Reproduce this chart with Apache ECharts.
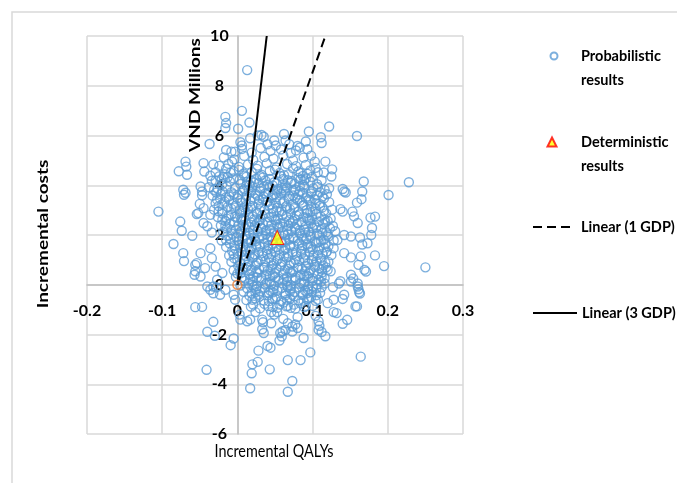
<!DOCTYPE html>
<html>
<head>
<meta charset="utf-8">
<script src="https://cdn.jsdelivr.net/npm/echarts@6/dist/echarts.min.js"></script>
<style>
html,body{margin:0;padding:0;background:#fff;}
#chart{width:677px;height:483px;}
</style>
</head>
<body>
<div id="chart"></div>
<script>
var FONT = "Lato,'Open Sans',sans-serif";

var seriesNames = ['Probabilistic results', 'Deterministic results', 'Linear (1 GDP)', 'Linear (3 GDP)'];
var xTickLabels = ['-0.2', '-0.1', '0', '0.1', '0.2', '0.3'];
var yTickLabels = ['-6', '-4', '-2', '0', '2', '4', '6', '8', '10'];
var xAxisTitle = 'Incremental QALYs';
var yAxisTitle = 'Incremental costs';
var unitTitle = 'VND Millions';

// Deterministic result (incremental QALYs, incremental cost in VND millions)
var deterministic = [[0.053, 1.9]];
var origin = [[0, 0]];
// Threshold lines (1 GDP and 3 GDP per QALY), from origin to top of the axis
var line1GDP = [[0, 0], [0.117, 10]];
var line3GDP = [[0, 0], [0.039, 10]];

// Probabilistic results - outer points
var probOuter = [
[0.013,8.63],[0.006,6.99],[-0.016,6.75],[-0.015,6.5],[0.016,6.52],[-0.016,6.3],[0.001,6.27],[0.122,6.36],[0.095,6.16],[0.159,5.98],[-0.037,5.66],[0.111,5.93],[0.112,5.7],[0.032,6.02],[0.062,6.06],[0.004,5.73],[0.091,5.76],[0.08,5.58],[0.093,5.45],[0.027,6.0],[0.035,5.95],[0.049,5.8],[0.064,5.8],[0.069,5.65],[0.04,5.65],[0.017,5.89],[-0.015,5.42],[0.006,5.6],[-0.003,5.35],[0.078,5.4],[0.051,5.6],
[-0.069,4.95],[-0.068,4.75],[-0.078,4.56],[-0.067,4.42],[-0.045,4.89],[-0.032,4.84],[-0.044,4.55],[-0.036,4.38],[-0.072,3.82],[-0.071,3.62],[-0.049,3.95],[-0.047,3.75],[-0.029,4.19],[-0.018,4.33],[-0.007,4.95],[-0.009,4.5],[-0.069,3.7],[-0.047,3.6],[-0.05,3.25],
[-0.105,2.94],[-0.076,2.54],[-0.074,2.17],[-0.06,1.97],[-0.054,2.84],[-0.085,1.64],[-0.072,1.27],[-0.071,0.95],[-0.056,0.8],[-0.057,0.4],[-0.056,0.54],[-0.049,0.33],[-0.054,0.87],[-0.049,1.27],[-0.045,3.08],[-0.036,2.81],[-0.045,2.48],[-0.04,2.35],[-0.034,2.1],[-0.036,1.47],[-0.034,1.07],[-0.029,0.73],[-0.043,0.67],[-0.027,0.2],[-0.02,0.47],[-0.052,2.88],
[0.126,4.64],[0.115,4.51],[0.125,4.35],[0.117,4.95],[0.103,4.95],[0.084,4.49],[0.089,4.2],[0.168,4.15],[0.228,4.12],[0.201,3.61],[0.166,3.75],[0.142,3.75],[0.14,3.85],[0.122,3.88],[0.113,3.55],[0.165,3.44],[0.159,3.3],[0.137,3.04],[0.153,2.94],[0.155,2.75],[0.16,2.48],[0.177,2.7],[0.183,2.74],[0.179,2.28],[0.178,2.0],[0.173,1.67],[0.166,1.62],[0.163,1.9],[0.151,1.94],[0.142,2.0],[0.133,1.8],[0.128,1.47],[0.142,1.27],[0.151,1.1],[0.164,1.14],[0.183,1.18],[0.195,0.75],[0.25,0.7],[0.169,0.6],[0.161,0.8],[0.151,0.4],[0.16,0.05],[0.161,-0.18],[0.137,0.14],[0.124,0.54],[0.14,2.94],[0.144,3.71],[0.171,0.53],[0.151,0.13],[0.16,-0.07],[0.162,-0.3],[0.154,0.25],[0.142,-0.4],[0.135,0.05],[0.127,-0.1],
[-0.04,-0.07],[-0.032,-0.07],[-0.032,-0.34],[-0.023,-0.4],[-0.056,-0.9],[-0.047,-0.89],[-0.032,-1.49],[-0.04,-1.89],[-0.03,-2.05],[-0.005,-2.16],[-0.009,-2.43],[-0.041,-3.42],[0.017,-4.16],[0.019,-3.56],[0.02,-3.2],[0.027,-3.1],[0.028,-2.65],[0.043,-3.4],[0.04,-2.46],[0.044,-2.53],[0.067,-4.3],[0.073,-3.87],[0.067,-3.03],[0.084,-3.03],[0.097,-2.72],[0.164,-2.89],[0.157,-0.87],[0.146,-1.41],[0.14,-1.57],[0.117,-2.07],[0.108,-1.81],[0.088,-2.14],[0.08,-1.74],[0.077,-1.6],[0.06,-1.87],[0.059,-2.08],[0.056,-2.24],[0.035,-1.94],[0.033,-1.4],[0.049,-1.2],[0.128,-1.1],[0.14,-0.57],[0.132,-1.14],[0.112,-1.9],[0.034,-1.51],[0.033,-1.79],[0.045,-1.55],[0.057,-1.94],[0.064,-1.82],[0.067,-1.55],[0.073,-1.68],[0.073,-1.88],[0.08,-1.3],[0.108,-1.47],[0.109,-1.65],[0.104,-1.25],[0.12,-0.74],[0.128,-0.6],[0.013,-1.47],[0.017,-1.4],[0.004,-1.4],[0.003,-1.2],[0.024,-1.1],[0.021,-0.8],[0.045,-1.1],[0.053,-1.1],[0.061,-1.37],[0.056,-0.8],[0.067,-0.85],[0.075,-0.8],[0.091,-0.85],[0.107,-0.6],[-0.003,-0.6],[-0.005,-0.4],[-0.016,-0.2],[-0.036,-0.2],[-0.028,-0.1],[0.159,-0.87],[0.163,-0.35]
];

// Probabilistic results - dense central cloud (estimated positions)
var probCore = [
[-0.008,5.35],[0.006,5.46],[0.019,5.31],[0.031,5.5],[0.044,5.38],[0.058,5.44],[0.071,5.29],[0.083,5.52],
[-0.018,5.12],[-0.004,5.04],[0.009,5.18],[0.021,5.02],[0.036,5.14],[0.048,5.07],[0.061,5.2],[0.074,5.0],[0.088,5.11],[0.098,5.19],
[-0.024,4.78],[-0.012,4.86],[0.002,4.74],[0.014,4.83],[0.027,4.79],[0.039,4.88],[0.052,4.72],[0.066,4.85],[0.078,4.77],[0.091,4.82],[0.104,4.7],
[-0.029,4.52],[-0.017,4.44],[-0.005,4.56],[0.008,4.47],[0.019,4.53],[0.032,4.42],[0.043,4.58],[0.056,4.49],[0.068,4.44],[0.081,4.55],[0.093,4.46],[0.107,4.52],
[-0.034,4.18],[-0.021,4.24],[-0.01,4.15],[0.003,4.22],[0.013,4.13],[0.025,4.26],[0.037,4.19],[0.049,4.12],[0.061,4.25],[0.072,4.17],[0.084,4.23],[0.097,4.14],[0.112,4.2],
[-0.038,3.92],[-0.026,3.86],[-0.014,3.95],[-0.003,3.88],[0.009,3.84],[0.02,3.93],[0.031,3.87],[0.043,3.96],[0.054,3.85],[0.066,3.91],[0.077,3.83],[0.089,3.94],[0.101,3.88],[0.116,3.82],
[-0.033,3.58],[-0.022,3.64],[-0.011,3.55],[0.001,3.62],[0.012,3.57],[0.024,3.66],[0.035,3.54],[0.047,3.61],[0.058,3.67],[0.069,3.56],[0.081,3.63],[0.093,3.55],[0.106,3.6],[0.119,3.64],
[-0.029,3.27],[-0.017,3.34],[-0.006,3.25],[0.006,3.31],[0.017,3.36],[0.028,3.24],[0.04,3.32],[0.051,3.28],[0.062,3.35],[0.074,3.23],[0.086,3.3],[0.097,3.37],[0.109,3.26],[0.122,3.32],
[-0.031,3.02],[-0.02,2.95],[-0.008,3.05],[0.003,2.97],[0.014,3.04],[0.025,2.93],[0.036,3.01],[0.047,3.06],[0.059,2.96],[0.07,3.03],[0.081,2.94],[0.092,3.0],[0.104,3.05],[0.115,2.97],[0.126,3.02],
[-0.026,2.72],[-0.014,2.66],[-0.003,2.74],[0.009,2.68],[0.02,2.75],[0.031,2.64],[0.042,2.71],[0.054,2.67],[0.065,2.76],[0.076,2.65],[0.088,2.73],[0.099,2.68],[0.111,2.74],[0.124,2.66],
[-0.022,2.38],[-0.01,2.45],[0.001,2.36],[0.012,2.42],[0.023,2.35],[0.034,2.44],[0.045,2.39],[0.057,2.46],[0.068,2.37],[0.079,2.43],[0.091,2.34],[0.102,2.41],[0.114,2.45],[0.127,2.36],
[-0.019,2.12],[-0.007,2.05],[0.005,2.14],[0.016,2.08],[0.027,2.15],[0.038,2.04],[0.049,2.11],[0.061,2.07],[0.072,2.16],[0.083,2.06],[0.095,2.13],[0.106,2.04],[0.118,2.1],[0.13,2.15],
[-0.021,1.78],[-0.009,1.84],[0.002,1.76],[0.013,1.83],[0.024,1.75],[0.035,1.85],[0.046,1.79],[0.058,1.74],[0.069,1.82],[0.08,1.77],[0.092,1.86],[0.103,1.75],[0.115,1.81],[0.128,1.78],
[-0.015,1.52],[-0.003,1.46],[0.008,1.55],[0.019,1.48],[0.03,1.54],[0.041,1.44],[0.052,1.51],[0.064,1.47],[0.075,1.56],[0.086,1.45],[0.098,1.53],[0.109,1.49],[0.121,1.55],
[-0.011,1.18],[0.001,1.25],[0.012,1.16],[0.023,1.22],[0.034,1.15],[0.045,1.24],[0.056,1.19],[0.067,1.26],[0.079,1.14],[0.09,1.21],[0.101,1.17],[0.113,1.25],[0.125,1.19],
[-0.008,0.92],[0.004,0.86],[0.015,0.95],[0.026,0.88],[0.037,0.94],[0.048,0.84],[0.06,0.91],[0.071,0.87],[0.082,0.96],[0.094,0.85],[0.105,0.93],[0.117,0.88],
[-0.005,0.58],[0.007,0.64],[0.018,0.56],[0.029,0.62],[0.04,0.55],[0.052,0.65],[0.063,0.59],[0.074,0.54],[0.086,0.63],[0.097,0.57],[0.109,0.66],[0.12,0.6],
[-0.002,0.32],[0.01,0.25],[0.021,0.34],[0.032,0.27],[0.043,0.35],[0.055,0.24],[0.066,0.31],[0.077,0.28],[0.089,0.36],[0.1,0.26],[0.112,0.33],
[0.004,-0.03],[0.015,0.05],[0.026,-0.06],[0.037,0.02],[0.049,-0.04],[0.06,0.06],[0.071,-0.02],[0.083,0.04],[0.094,-0.07],[0.106,0.01],[0.116,0.05],
[0.008,-0.28],[0.019,-0.35],[0.03,-0.26],[0.042,-0.33],[0.053,-0.24],[0.064,-0.34],[0.076,-0.29],[0.087,-0.36],[0.099,-0.27],[0.11,-0.32],
[0.012,-0.62],[0.024,-0.55],[0.035,-0.64],[0.047,-0.58],[0.058,-0.66],[0.07,-0.56],[0.081,-0.63],[0.093,-0.59],[0.104,-0.65],
[0.018,-0.88],[0.03,-0.95],[0.041,-0.86],[0.053,-0.93],[0.065,-0.87],[0.077,-0.96],[0.089,-0.9],[0.1,-0.85],
[0.004,4.05],[0.016,4.0],[0.028,4.08],[0.04,4.02],[0.052,4.07],[0.064,3.99],[0.076,4.06],[0.088,4.01],
[-0.02,3.76],[-0.008,3.72],[0.007,3.78],[0.018,3.73],[0.03,3.77],[0.041,3.71],[0.053,3.79],[0.064,3.74],[0.075,3.78],[0.087,3.7],[0.099,3.75],
[-0.023,3.46],[-0.011,3.42],[0.0,3.48],[0.011,3.41],[0.023,3.47],[0.034,3.43],[0.045,3.49],[0.057,3.4],[0.068,3.46],[0.08,3.42],[0.091,3.48],[0.103,3.44],[0.115,3.47],
[-0.025,3.16],[-0.013,3.12],[-0.002,3.18],[0.009,3.11],[0.02,3.17],[0.031,3.13],[0.042,3.19],[0.053,3.1],[0.065,3.16],[0.076,3.12],[0.087,3.18],[0.098,3.14],[0.11,3.17],
[-0.02,2.86],[-0.008,2.82],[0.004,2.88],[0.015,2.81],[0.026,2.87],[0.037,2.83],[0.048,2.89],[0.06,2.8],[0.071,2.86],[0.082,2.82],[0.093,2.88],[0.105,2.84],[0.118,2.87],
[-0.016,2.56],[-0.004,2.52],[0.007,2.58],[0.018,2.51],[0.029,2.57],[0.04,2.53],[0.051,2.59],[0.062,2.5],[0.074,2.56],[0.085,2.52],[0.096,2.58],[0.108,2.54],[0.12,2.57],
[-0.014,2.26],[-0.002,2.22],[0.01,2.28],[0.021,2.21],[0.032,2.27],[0.043,2.23],[0.055,2.29],[0.066,2.2],[0.077,2.26],[0.089,2.22],[0.1,2.28],[0.112,2.24],[0.123,2.27],
[-0.013,1.96],[-0.001,1.92],[0.011,1.98],[0.022,1.91],[0.033,1.97],[0.044,1.93],[0.063,1.99],[0.074,1.9],[0.086,1.96],[0.097,1.92],[0.109,1.98],[0.121,1.94],
[-0.01,1.66],[0.003,1.62],[0.014,1.68],[0.025,1.61],[0.036,1.67],[0.047,1.63],[0.059,1.69],[0.07,1.6],[0.082,1.66],[0.093,1.62],[0.105,1.68],[0.117,1.64],
[-0.007,1.36],[0.006,1.32],[0.017,1.38],[0.028,1.31],[0.039,1.37],[0.05,1.33],[0.062,1.39],[0.073,1.3],[0.085,1.36],[0.096,1.32],[0.108,1.38],[0.119,1.34],
[-0.004,1.06],[0.009,1.02],[0.02,1.08],[0.031,1.01],[0.042,1.07],[0.054,1.03],[0.065,1.09],[0.077,1.0],[0.088,1.06],[0.099,1.02],[0.111,1.08],
[0.001,0.76],[0.012,0.72],[0.024,0.78],[0.035,0.71],[0.046,0.77],[0.057,0.73],[0.069,0.79],[0.08,0.7],[0.091,0.76],[0.103,0.72],[0.114,0.78],
[0.004,0.46],[0.016,0.42],[0.027,0.48],[0.038,0.41],[0.05,0.47],[0.061,0.43],[0.072,0.49],[0.084,0.4],[0.095,0.46],[0.107,0.42],
[0.009,0.16],[0.02,0.12],[0.032,0.18],[0.043,0.11],[0.055,0.17],[0.066,0.13],[0.077,0.19],[0.089,0.1],[0.1,0.16],[0.111,0.12],
[0.013,-0.14],[0.025,-0.18],[0.036,-0.12],[0.048,-0.19],[0.059,-0.13],[0.071,-0.17],[0.082,-0.11],[0.094,-0.2],[0.105,-0.14],
[0.016,-0.44],[0.029,-0.48],[0.041,-0.42],[0.052,-0.49],[0.064,-0.43],[0.075,-0.47],[0.087,-0.41],[0.098,-0.5]
];

// Probabilistic results - extra points filling the densest part of the cloud
var probDense = [
[0.034,4.31],[0.058,4.36],[0.081,4.29],[0.012,4.34],[-0.013,4.33],[0.099,4.33],
[0.047,3.99],[0.071,4.1],[0.022,4.11],[-0.02,4.05],[0.106,4.04],
[0.037,3.67],[0.015,3.8],[0.062,3.81],[0.083,3.77],[-0.028,3.71],[0.11,3.72],
[0.029,3.4],[0.052,3.52],[0.077,3.5],[0.004,3.39],[0.095,3.41],[-0.015,3.52],
[0.018,3.09],[0.044,3.23],[0.066,3.09],[0.088,3.21],[-0.004,3.1],[0.113,3.11],
[0.033,2.79],[0.056,2.93],[0.079,2.78],[0.011,2.91],[0.1,2.95],[-0.012,2.78],
[0.026,2.48],[0.049,2.62],[0.071,2.47],[0.094,2.61],[0.005,2.63],[0.117,2.5],
[0.038,2.18],[0.06,2.32],[0.083,2.19],[0.016,2.31],[0.105,2.3],[-0.008,2.2],
[0.029,1.89],[0.052,2.01],[0.075,1.86],[0.097,2.0],[0.007,1.89],[0.12,2.02],
[0.041,1.59],[0.063,1.72],[0.086,1.58],[0.018,1.71],[0.108,1.72],[-0.004,1.58],
[0.033,1.28],[0.055,1.42],[0.078,1.29],[0.1,1.43],[0.011,1.41],[0.118,1.3],
[0.045,0.99],[0.068,1.12],[0.09,0.98],[0.022,1.12],[0.112,0.97],[0.0,1.0],
[0.036,0.68],[0.058,0.82],[0.081,0.68],[0.103,0.8],[0.014,0.81],[0.118,0.7],
[0.047,0.38],[0.07,0.52],[0.092,0.37],[0.025,0.51],[0.113,0.5],[0.003,0.6],
[0.039,0.07],[0.062,0.21],[0.085,0.08],[0.017,0.22],[0.108,0.2],
[0.044,-0.24],[0.067,-0.09],[0.09,-0.23],[0.022,-0.08],[0.112,-0.1],
[0.05,-0.55],[0.073,-0.4],[0.095,-0.54],[0.028,-0.4],[0.061,-0.72],[0.084,-0.75],[0.036,-0.77],
[0.002,4.62],[0.026,4.66],[0.05,4.63],[0.074,4.68],[0.097,4.6],[-0.015,4.67],
[0.009,4.39],[0.03,4.37],[0.062,4.4],[0.087,4.37],[-0.024,4.36],
[0.018,4.18],[0.043,4.25],[0.067,4.2],[0.091,4.27],[-0.005,4.27],
[0.035,3.93],[0.059,3.88],[0.083,3.96],[0.012,3.99],[-0.031,3.81],[0.107,3.93],
[0.027,3.59],[0.05,3.64],[0.074,3.59],[0.098,3.67],[-0.005,3.64],[-0.027,3.42],
[0.038,3.35],[0.06,3.27],[0.083,3.38],[0.012,3.22],[0.104,3.28],[-0.02,3.24],
[0.03,2.99],[0.052,2.97],[0.075,3.07],[0.097,2.92],[0.008,3.01],[-0.025,2.95],
[0.022,2.63],[0.046,2.74],[0.069,2.6],[0.092,2.7],[0.0,2.7],[-0.02,2.62],[0.116,2.63],
[0.03,2.38],[0.053,2.42],[0.076,2.33],[0.098,2.46],[0.008,2.4],[-0.016,2.37],
[0.021,2.05],[0.045,2.16],[0.067,2.02],[0.09,2.1],[0.001,2.06],[0.113,2.08],
[0.019,1.78],[0.04,1.82],[0.064,1.79],[0.088,1.84],[0.111,1.78],[-0.015,1.8],
[0.025,1.51],[0.047,1.46],[0.07,1.53],[0.094,1.48],[0.004,1.49],[0.115,1.5],
[0.016,1.19],[0.04,1.22],[0.062,1.16],[0.085,1.24],[0.107,1.2],[-0.005,1.22],
[0.028,0.92],[0.052,0.95],[0.075,0.88],[0.099,0.95],[0.01,0.98],[0.121,0.92],
[0.019,0.61],[0.044,0.6],[0.067,0.64],[0.09,0.55],[0.112,0.62],[0.0,0.45],
[0.026,0.29],[0.05,0.3],[0.072,0.25],[0.094,0.33],[0.116,0.26],[0.006,0.3],
[0.02,-0.02],[0.045,0.03],[0.066,-0.04],[0.088,0.02],[0.1,-0.06],
[0.024,-0.3],[0.047,-0.3],[0.07,-0.26],[0.093,-0.33],[0.105,-0.42],
[0.02,-0.6],[0.042,-0.66],[0.066,-0.6],[0.088,-0.64],[0.047,-0.9],[0.071,-0.93]
];

var probabilistic = probOuter.concat(probCore, probDense);

var xMin = Number(xTickLabels[0]), xMax = Number(xTickLabels[xTickLabels.length - 1]);
var yMin = Number(yTickLabels[0]), yMax = Number(yTickLabels[yTickLabels.length - 1]);

function fmtTick(labels) {
  return function (v) {
    for (var i = 0; i < labels.length; i++) {
      if (Math.abs(Number(labels[i]) - v) < 1e-9) return labels[i];
    }
    return '';
  };
}

var GRID = {left: 87, right: 214, top: 36, bottom: 49};
var W = 677, H = 483;
var plotW = W - GRID.left - GRID.right, plotH = H - GRID.top - GRID.bottom;
// pixel offsets that bring each axis onto the other's zero value
var yAxisShift = plotW * (0 - xMin) / (xMax - xMin);
var xAxisShift = plotH * (0 - yMin) / (yMax - yMin);

var chart = echarts.init(document.getElementById('chart'), null, {renderer: 'canvas'});

var legendText = {fontFamily: FONT, fontWeight: 'bold', fontSize: 14.5, color: '#000', lineHeight: 24};

chart.setOption({
  animation: false,
  backgroundColor: '#fff',
  textStyle: {fontFamily: FONT},
  graphic: [
    {type: 'rect', z: -10, silent: true, shape: {x: 12, y: 12, width: 720, height: 520},
     style: {fill: 'none', stroke: '#D9D9D9', lineWidth: 1.5}},
    {type: 'text', x: 195, y: 95, rotation: Math.PI / 2, scaleY: 0.8, z: 10,
     style: {text: unitTitle, font: 'bold 19px ' + FONT, fill: '#000', align: 'center', verticalAlign: 'middle'}},
    {type: 'text', x: 43, y: 234, rotation: Math.PI / 2, scaleY: 0.8, z: 10,
     style: {text: yAxisTitle, font: 'bold 19px ' + FONT, fill: '#000', align: 'center', verticalAlign: 'middle'}},
    {type: 'text', x: 274, y: 451, scaleX: 0.8, z: 10,
     style: {text: xAxisTitle, font: '18px ' + FONT, fill: '#000', align: 'center', verticalAlign: 'middle'}}
  ],
  grid: {left: GRID.left, right: GRID.right, top: GRID.top, bottom: GRID.bottom, containLabel: false, outerBoundsMode: 'none'},
  xAxis: {
    type: 'value', min: xMin, max: xMax, interval: 0.1, offset: -xAxisShift,
    axisLine: {onZero: false, lineStyle: {color: '#BFBFBF', width: 1.5}},
    axisTick: {show: false},
    axisLabel: {margin: 18, fontFamily: FONT, fontWeight: 'bold', fontSize: 16, color: '#000', formatter: fmtTick(xTickLabels), showMinLabel: true, showMaxLabel: true, hideOverlap: false},
    splitLine: {show: true, lineStyle: {color: '#D9D9D9', width: 1.5}}
  },
  yAxis: {
    type: 'value', min: yMin, max: yMax, interval: 2, offset: -yAxisShift,
    axisLine: {onZero: false, lineStyle: {color: '#BFBFBF', width: 1.5}},
    axisTick: {show: false},
    axisLabel: {margin: 18, align: 'center', fontFamily: FONT, fontWeight: 'bold', fontSize: 16, color: '#000', formatter: fmtTick(yTickLabels), showMinLabel: true, showMaxLabel: true, hideOverlap: false},
    splitLine: {show: true, lineStyle: {color: '#D9D9D9', width: 1.5}}
  },
  legend: [
    {data: [seriesNames[0]], left: 549.5, top: 20, padding: 0, itemWidth: 7, itemHeight: 7,
     formatter: function () { return ' \nProbabilistic\nresults'; },
     textStyle: Object.assign({padding: [0, 0, 0, 18.5]}, legendText)},
    {data: [seriesNames[1]], left: 546.5, top: 106, padding: 0, itemWidth: 9, itemHeight: 9,
     formatter: function () { return ' \nDeterministic\nresults'; },
     textStyle: Object.assign({padding: [0, 0, 0, 19.5]}, legendText)},
    {data: [seriesNames[2]], left: 532, top: 215, padding: 0, itemWidth: 40, itemHeight: 10,
     itemStyle: {opacity: 0},
     textStyle: Object.assign({padding: [0, 0, 0, 3]}, legendText)},
    {data: [seriesNames[3]], left: 532, top: 301, padding: 0, itemWidth: 44, itemHeight: 10,
     itemStyle: {opacity: 0},
     textStyle: Object.assign({padding: [0, 0, 0, 0]}, legendText)}
  ],
  series: [
    {name: seriesNames[0], type: 'scatter', data: probabilistic, symbol: 'circle', symbolSize: 9,
     itemStyle: {color: 'rgba(0,0,0,0)', borderColor: '#5B9BD5', borderWidth: 1.4}, z: 2},
    {name: seriesNames[2], type: 'line', data: line1GDP, symbol: 'none', z: 3,
     lineStyle: {color: '#000', width: 2, type: [9, 5]}, itemStyle: {color: '#000'}},
    {name: seriesNames[3], type: 'line', data: line3GDP, symbol: 'none', z: 3,
     lineStyle: {color: '#000', width: 2, type: 'solid'}, itemStyle: {color: '#000'}},
    {name: 'origin', type: 'scatter', data: origin, symbol: 'circle', symbolSize: 9, z: 4,
     itemStyle: {color: 'rgba(0,0,0,0)', borderColor: '#ED7D31', borderWidth: 1.5}},
    {name: seriesNames[1], type: 'scatter', data: deterministic, symbol: 'triangle', symbolSize: [13, 14], z: 5,
     itemStyle: {color: '#FFFF00', borderColor: '#FF0000', borderWidth: 1}}
  ]
});
</script>
</body>
</html>
